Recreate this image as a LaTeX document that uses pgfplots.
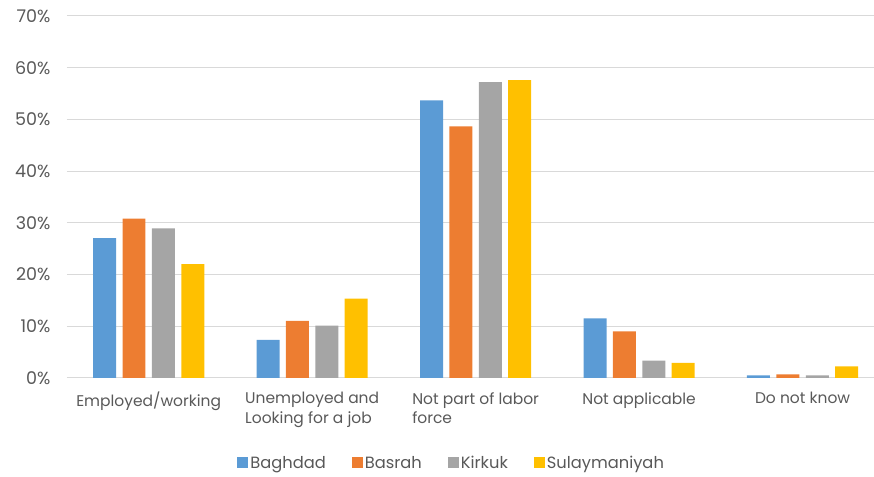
\documentclass[border=0pt]{standalone}
\usepackage{pgfplots}
\pgfplotsset{compat=1.18}
\usepackage{fontspec}
\setmainfont{Poppins}
\definecolor{cBag}{HTML}{5B9BD5}
\definecolor{cBas}{HTML}{ED7D31}
\definecolor{cKir}{HTML}{A5A5A5}
\definecolor{cSul}{HTML}{FFC000}
\definecolor{txt}{HTML}{595959}
\definecolor{grd}{HTML}{D9D9D9}
\begin{document}
\begin{tikzpicture}
\begin{axis}[
  scale only axis,
  width=807pt, height=362pt,
  ymin=0, ymax=70, ytick={0,10,...,70},
  yticklabel={\pgfmathprintnumber{\tick}\%},
  xmin=-0.5, xmax=4.434,
  xtick={0,1,2,3,4},
  xticklabels={Employed/working, Unemployed and\\Looking for a job, Not part of labor\\force, Not applicable, Do not know},
  xticklabel style={align=left, font=\fontsize{15.5}{19.5}\selectfont, text=txt, yshift=-11pt},
  yticklabel style={font=\fontsize{17.5}{20}\selectfont, text=txt, xshift=-13pt},
  /pgf/number format/assume math mode=true,
  axis x line=bottom, axis y line=left,
  x axis line style={grd, line width=1pt, -},
  y axis line style={draw=none},
  ymajorgrids, grid style={grd, line width=1pt},
  major tick length=0pt,
  ybar=6.4pt, bar width=23pt,
  clip=false,
  legend columns=4,
  legend style={draw=none, at={(0.477,-0.235)}, anchor=center, font=\fontsize{16.3}{19}\selectfont, text=txt, /tikz/every even column/.append style={column sep=24pt}},
  legend image code/.code={\fill[#1] (0pt,-5pt) rectangle (11pt,6pt);},
]
\addplot[fill=cBag, draw=none] coordinates {(0,27.0) (1,7.35) (2,53.65) (3,11.5) (4,0.45)};
\addplot[fill=cBas, draw=none] coordinates {(0,30.8) (1,11.0) (2,48.65) (3,9.0) (4,0.65)};
\addplot[fill=cKir, draw=none] coordinates {(0,28.9) (1,10.1) (2,57.2) (3,3.3) (4,0.45)};
\addplot[fill=cSul, draw=none] coordinates {(0,22.0) (1,15.3) (2,57.6) (3,2.9) (4,2.2)};
\legend{Baghdad, Basrah, Kirkuk, Sulaymaniyah}
\end{axis}
\path (current axis.south west) ++(-67pt,-99pt) rectangle ++(874pt,477pt);
\end{tikzpicture}
\end{document}
